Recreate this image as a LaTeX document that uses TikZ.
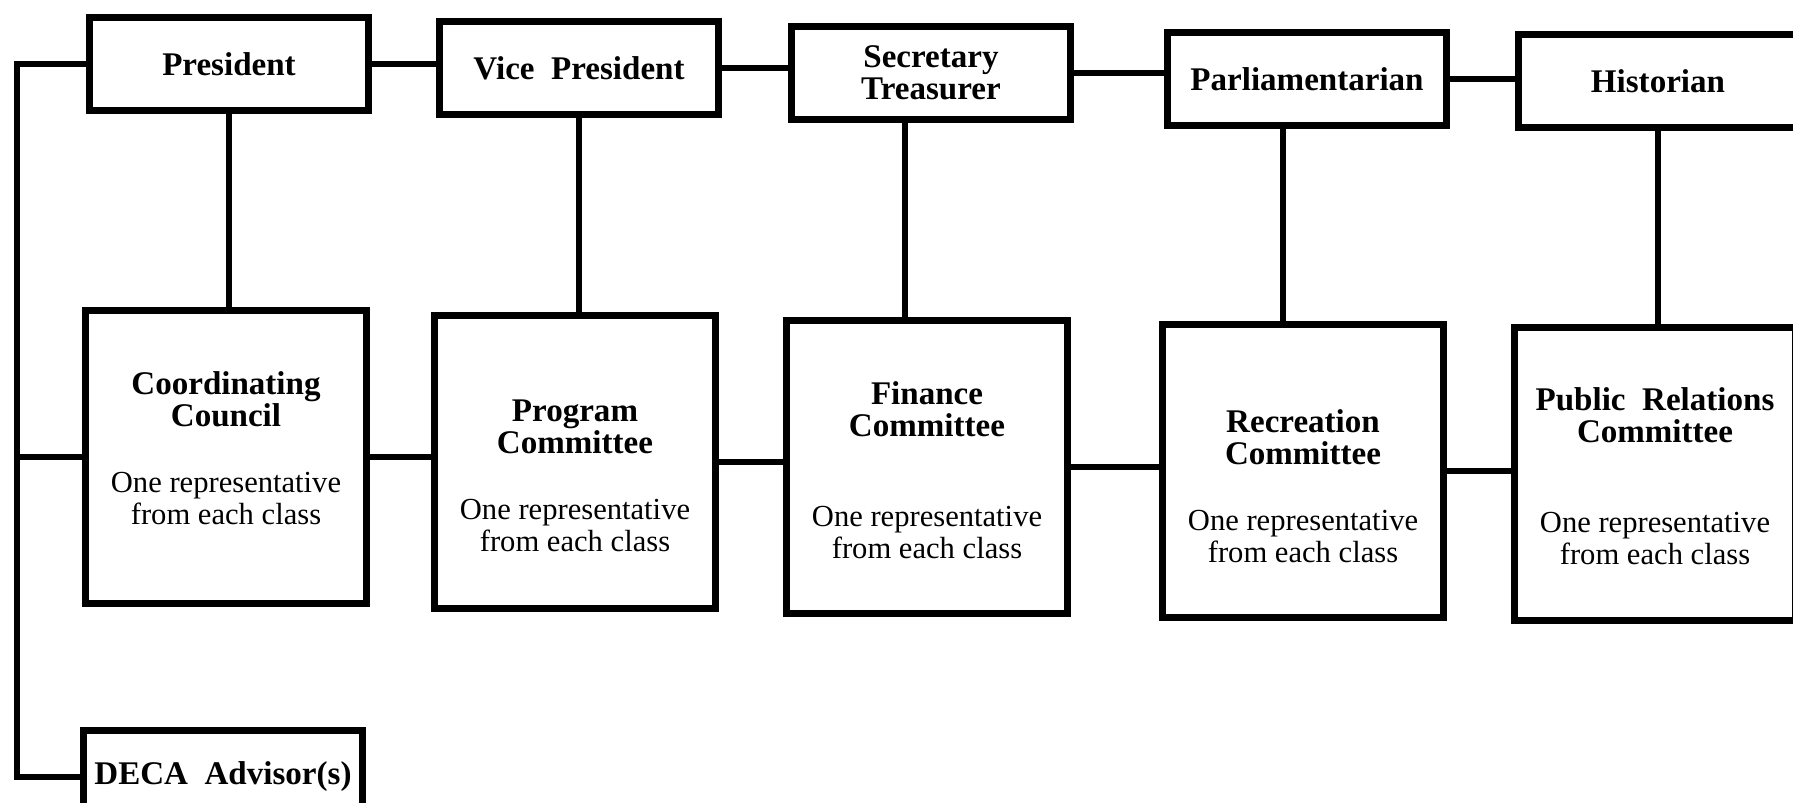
\documentclass[tikz,border=0pt]{standalone}
\usepackage{fontspec}
\setmainfont{Liberation Serif}
\usetikzlibrary{positioning}
\newcommand{\titlefont}{\fontsize{9.4}{9.1}\selectfont\bfseries}
\newcommand{\descfont}{\fontsize{8.7}{9.3}\selectfont\mdseries}
\tikzset{
  officebox/.style={draw, line width=2pt, minimum width=2.79cm, minimum height=0.93cm,
    align=center, inner sep=1pt, font=\titlefont},
  commbox/.style={draw, line width=2pt, minimum width=2.8cm, minimum height=2.92cm},
  commtext/.style={align=center, inner sep=0pt, font=\titlefont},
  link/.style={line width=1.8pt},
}

\begin{document}
\begin{tikzpicture}[x=0.01cm, y=-0.01cm]
  \useasboundingbox (0,0) rectangle (1793,803);
  \clip (0,0) rectangle (1793,803);
  % officers
  \node[officebox] (pres) at (229,64)  {President};
  \node[officebox] (vp)   at (579,68)  {Vice\ \ President};
  \node[officebox] (sec)  at (931,73)  {Secretary\\Treasurer};
  \node[officebox] (parl) at (1307,79) {Parliamentarian};
  \node[officebox] (hist) at (1658,81) {Historian};
  % committees
  \node[commbox] (coord) at (226,457)  {};
  \node[commbox] (prog)  at (575,462)  {};
  \node[commbox] (fin)   at (927,467)  {};
  \node[commbox] (rec)   at (1303,471) {};
  \node[commbox] (pr)    at (1655,474) {};
  \node[commtext, yshift=0.086cm] (coordtxt) at (coord)
    {Coordinating\\Council\\[9.7pt]\descfont One representative\\\descfont from each class};
  \node[commtext, yshift=-0.14cm] (progtxt) at (prog)
    {Program\\Committee\\[9.7pt]\descfont One representative\\\descfont from each class};
  \node[commtext, yshift=-0.03cm] (fintxt) at (fin)
    {Finance\\Committee\\[16.5pt]\descfont One representative\\\descfont from each class};
  \node[commtext, yshift=-0.15cm] (rectxt) at (rec)
    {Recreation\\Committee\\[9.7pt]\descfont One representative\\\descfont from each class};
  \node[commtext, yshift=-0.02cm] (prtxt) at (pr)
    {Public\ \ Relations\\Committee\\[16.5pt]\descfont One representative\\\descfont from each class};
  % advisor
  \node[officebox] (deca) at (223,777) {DECA\ \ Advisor(s)};
  \coordinate (spine) at (17,0);

  % connectors
  \foreach \a/\b in {pres/vp, vp/sec, sec/parl, parl/hist, coord/prog, prog/fin, fin/rec, rec/pr}
    \draw[link] (\a.east) -- (\a.east -| \b.west);
  \foreach \a/\b/\s in {pres/coord/0, vp/prog/0, sec/fin/-0.26, parl/rec/-0.24, hist/pr/0}
    \draw[link] ([xshift=\s cm]\a.south) -- ([xshift=\s cm]\a.south |- \b.north);
  \draw[link] (pres.west) -- (pres.west -| spine) |- (deca.west);
  \draw[link] (coord.west) -- (coord.west -| spine);
\end{tikzpicture}
\end{document}
